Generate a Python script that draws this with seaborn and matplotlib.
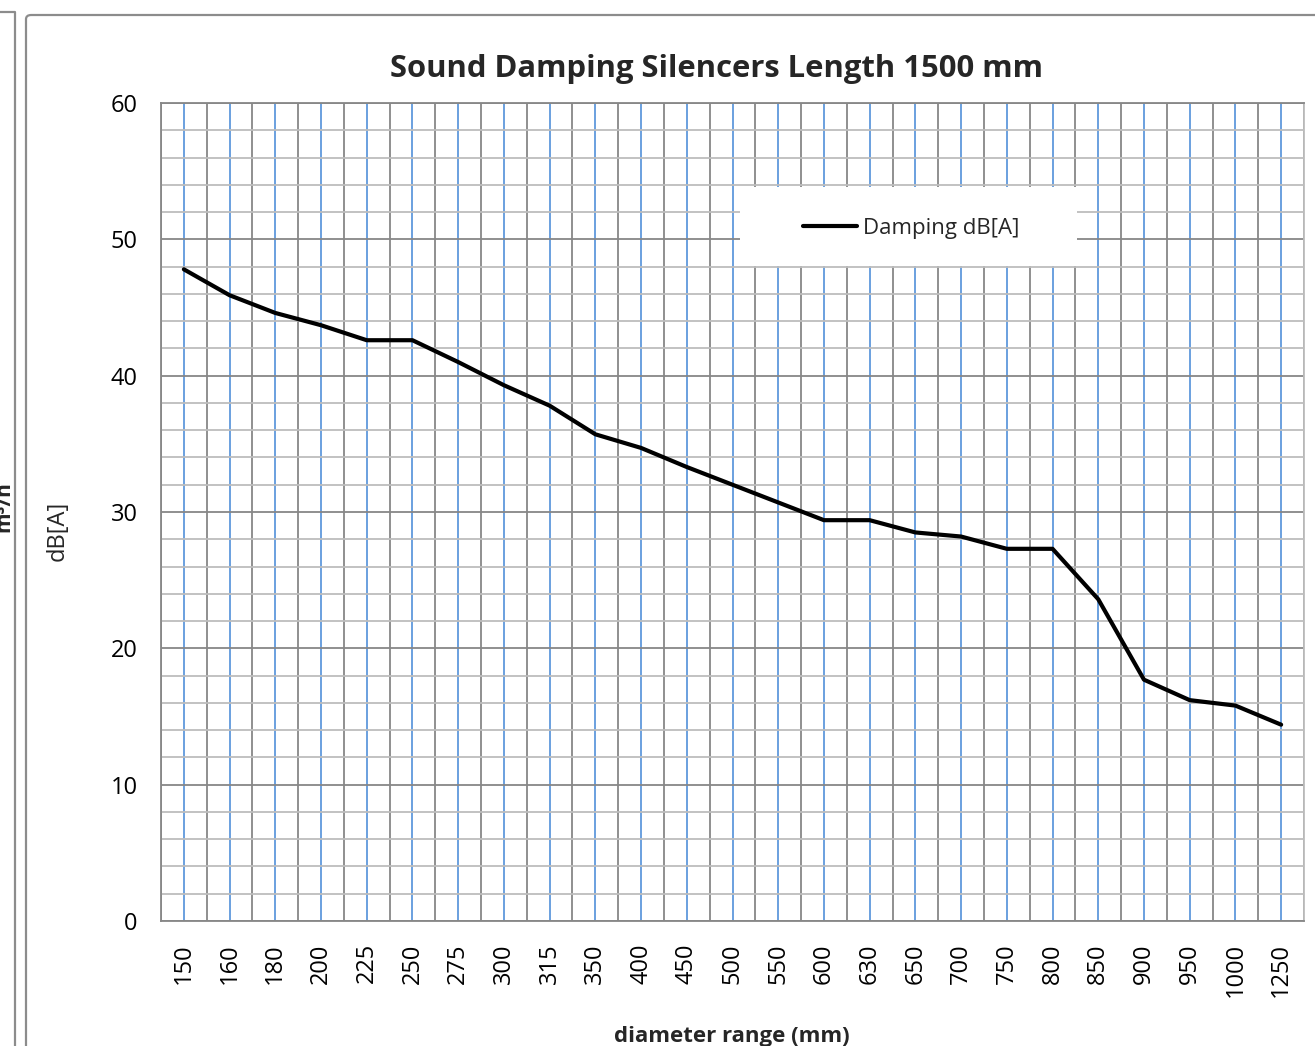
import numpy as np
import pandas as pd
import matplotlib
matplotlib.use("Agg")
import matplotlib.pyplot as plt
from matplotlib.patches import Rectangle, FancyBboxPatch
from matplotlib.lines import Line2D
import seaborn as sns

# ---- data ----
diameters = ["150", "160", "180", "200", "225", "250", "275", "300", "315", "350",
             "400", "450", "500", "550", "600", "630", "650", "700", "750", "800",
             "850", "900", "950", "1000", "1250"]
damping = [47.8, 45.9, 44.6, 43.7, 42.6, 42.6, 41.0, 39.3, 37.8, 35.7,
           34.7, 33.3, 32.0, 30.7, 29.4, 29.4, 28.5, 28.2, 27.3, 27.3,
           23.6, 17.7, 16.2, 15.8, 14.4]
series_name = "Damping dB[A]"
title = "Sound Damping Silencers Length 1500 mm"
x_label = "diameter range (mm)"
y_label = "dB[A]"
y_ticks = [0, 10, 20, 30, 40, 50, 60]

df = pd.DataFrame({"diameter": diameters, "damping": damping})

sns.set_style("white")
plt.rcParams["font.family"] = ["Open Sans", "DejaVu Sans"]

W, H = 1315, 1046
fig = plt.figure(figsize=(W / 100, H / 100), dpi=100)
fig.patch.set_facecolor("white")

def fx(px):
    return px / W

def fy(py):
    return 1 - py / H

# plot area
left, right, top, bottom = 161, 1304, 103, 921
ax = fig.add_axes([fx(left), fy(bottom), (right - left) / W, (bottom - top) / H])

GREY = "#878787"
LIGHT = "#BDBDBD"
BLUE = "#5F98DC"

sns.lineplot(data=df, x="diameter", y="damping", ax=ax, color="black",
             linewidth=3.0, sort=False, label=series_name, zorder=3)

n = len(diameters)
ax.set_xlim(-0.5, n - 0.5)
ax.set_ylim(0, 60)

ax.set_xticks(range(n))
ax.set_xticklabels(diameters, rotation=90, fontsize=17)
ax.set_xticks(np.arange(-0.5, n, 1), minor=True)
ax.set_yticks(y_ticks)
ax.set_yticklabels([str(v) for v in y_ticks], fontsize=17)
ax.set_yticks(np.arange(0, 61, 2), minor=True)

ax.tick_params(axis="x", which="major", length=0, pad=16, colors="black")
ax.tick_params(axis="x", which="minor", length=5.8, width=1.3, color=GREY, direction="out")
ax.tick_params(axis="y", which="major", length=5.8, width=1.3, color=GREY, pad=11,
               direction="out", labelcolor="black")
ax.tick_params(axis="y", which="minor", length=0)

ax.grid(False)
ax.grid(axis="x", which="major", color=BLUE, linewidth=1.3)
ax.grid(axis="x", which="minor", color=GREY, linewidth=1.3)
ax.grid(axis="y", which="major", color=GREY, linewidth=1.3)
ax.grid(axis="y", which="minor", color=LIGHT, linewidth=1.3)
ax.set_axisbelow(True)

for side, sp in ax.spines.items():
    sp.set_color(GREY)
    sp.set_linewidth(1.3)
ax.spines["right"].set_color(LIGHT)

ax.set_xlabel("")
ax.set_ylabel("")

# legend with white box
leg_handles, leg_labels = ax.get_legend_handles_labels()
ax.get_legend().remove()
ax.add_patch(Rectangle((fx(740), fy(266)), fx(1077) - fx(740), fy(187) - fy(266),
                       transform=fig.transFigure, facecolor="white",
                       edgecolor="none", zorder=4, clip_on=False))
leg = ax.legend(leg_handles, leg_labels, loc="center",
                bbox_to_anchor=(fx(911), fy(228)), bbox_transform=fig.transFigure,
                frameon=False, fontsize=16, handlelength=2.45, handletextpad=0.25)
leg.set_zorder(5)
for lh in leg.get_lines():
    lh.set_linewidth(3.0)

# titles / labels
fig.text(fx(716), fy(77), title, ha="center", va="baseline",
         fontsize=22.3, fontweight="bold")
fig.text(fx(732), fy(1042), x_label, ha="center", va="baseline",
         fontsize=16, fontweight="bold")
fig.text(fx(58), fy(531), y_label, ha="center", va="center",
         rotation=90, fontsize=17)

# fragment of neighbouring chart's axis label (cut off at the edge, as in the reference)
fig.text(fx(14), fy(507), "m³/h", ha="right", va="center", rotation=90,
         fontsize=15, fontweight="bold")

# chart frames
frame = FancyBboxPatch((fx(26), fy(1100)), fx(1400) - fx(26), fy(15) - fy(1100),
                       boxstyle="round,pad=0,rounding_size=0.004",
                       transform=fig.transFigure, facecolor="none",
                       edgecolor="#8C8C8C", linewidth=1.6, clip_on=False)
fig.patches.append(frame)
fig.add_artist(Line2D([fx(-5), fx(15), fx(15)], [fy(12), fy(12), fy(1100)],
                      transform=fig.transFigure, color="#8C8C8C", linewidth=1.6))

fig.savefig("out.png", dpi=100)
